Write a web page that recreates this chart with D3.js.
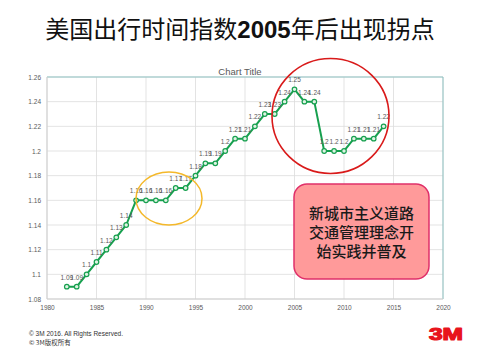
<!DOCTYPE html>
<html><head><meta charset="utf-8">
<script src="https://cdn.jsdelivr.net/npm/d3@7"></script>
<style>body{margin:0;background:#fff}svg{display:block}</style>
</head><body>
<svg id="c" width="480" height="360"></svg>
<script>
const years = [1982,1983,1984,1985,1986,1987,1988,1989,1990,1991,1992,1993,1994,1995,1996,1997,1998,1999,2000,2001,2002,2003,2004,2005,2006,2007,2008,2009,2010,2011,2012,2013,2014];
const values = [1.09,1.09,1.10,1.11,1.12,1.13,1.14,1.16,1.16,1.16,1.16,1.17,1.17,1.18,1.19,1.19,1.20,1.21,1.21,1.22,1.23,1.23,1.24,1.25,1.24,1.24,1.20,1.20,1.20,1.21,1.21,1.21,1.22];
const xTicks = [1980,1985,1990,1995,2000,2005,2010,2015,2020];
const yTicks = [1.08,1.1,1.12,1.14,1.16,1.18,1.2,1.22,1.24,1.26];
const title = "美国出行时间指数2005年后出现拐点";
const noteLines = ["新城市主义道路","交通管理理念开","始实践并普及"];

const svg = d3.select("#c");
const x = d3.scaleLinear().domain([1980,2020]).range([47,443]);
const y = d3.scaleLinear().domain([1.08,1.26]).range([299,77]);
const font = "Arial, 'Liberation Sans', sans-serif";
const cjk = "'Noto Sans CJK SC', sans-serif";

// Title
const t = svg.append("text").attr("x",240).attr("y",38).attr("text-anchor","middle")
  .attr("font-size",24).attr("fill","#111").attr("font-family",cjk);
t.append("tspan").text("美国出行时间指数");
t.append("tspan").attr("font-weight","bold").attr("font-family",font).text("2005");
t.append("tspan").text("年后出现拐点");

// grid
svg.append("g").selectAll("line").data(yTicks).join("line")
  .attr("x1",47).attr("x2",443).attr("y1",d=>y(d)).attr("y2",d=>y(d))
  .attr("stroke","#dcdcdc").attr("stroke-width",0.8);
svg.append("g").selectAll("line").data(xTicks).join("line")
  .attr("y1",77).attr("y2",299).attr("x1",d=>x(d)).attr("x2",d=>x(d))
  .attr("stroke","#dcdcdc").attr("stroke-width",0.8);
// border
svg.append("path").attr("d",`M47,77H443V299`).attr("fill","none").attr("stroke","#8fc3c3").attr("stroke-width",1);
svg.append("path").attr("d",`M47,77V299H443`).attr("fill","none").attr("stroke","#cfcfcf").attr("stroke-width",1);

// axes labels
const yAxis = d3.axisLeft(y).tickValues(yTicks).tickSize(0).tickPadding(6).tickFormat(d3.format("~g"));
const gy = svg.append("g").attr("transform","translate(47,0)").call(yAxis);
const xAxis = d3.axisBottom(x).tickValues(xTicks).tickSize(0).tickPadding(6).tickFormat(d3.format("d"));
const gx = svg.append("g").attr("transform","translate(0,299)").call(xAxis);
[gx,gy].forEach(g=>{g.select(".domain").remove();g.selectAll("text").attr("fill","#595959").attr("font-size",6.5).attr("font-family",font);});

// chart title
svg.append("text").attr("x",240).attr("y",75).attr("text-anchor","middle")
  .attr("font-size",9.5).attr("fill","#595959").attr("font-family",font).text("Chart Title");

// line
const data = years.map((yr,i)=>({yr,v:values[i]}));
svg.append("path").datum(data).attr("fill","none").attr("stroke","#17a04f").attr("stroke-width",2)
  .attr("d",d3.line().x(d=>x(d.yr)).y(d=>y(d.v)));
svg.append("g").selectAll("circle").data(data).join("circle")
  .attr("cx",d=>x(d.yr)).attr("cy",d=>y(d.v)).attr("r",2.3)
  .attr("fill","#dff3e4").attr("stroke","#17a04f").attr("stroke-width",1.2);
svg.append("g").selectAll("text").data(data).join("text")
  .attr("x",d=>x(d.yr)).attr("y",d=>y(d.v)-7).attr("text-anchor","middle")
  .attr("font-size",6.5).attr("fill","#595959").attr("font-family",font)
  .text(d=>d3.format("~g")(d.v));

// highlight ellipses
svg.append("ellipse").attr("cx",169).attr("cy",198.5).attr("rx",33).attr("ry",26.5)
  .attr("fill","none").attr("stroke","#f4b82a").attr("stroke-width",1.5);
svg.append("ellipse").attr("cx",330.5).attr("cy",116).attr("rx",58.5).attr("ry",57.5)
  .attr("fill","none").attr("stroke","#d91a1a").attr("stroke-width",1.6);

// note box
svg.append("rect").attr("x",294).attr("y",184).attr("width",135).attr("height",95).attr("rx",13)
  .attr("fill","#ff9a9a").attr("stroke","#e0306a").attr("stroke-width",1.5);
svg.append("g").selectAll("text").data(noteLines).join("text")
  .attr("x",361.5).attr("y",(d,i)=>219+i*19).attr("text-anchor","middle")
  .attr("font-size",15).attr("font-weight",500).attr("fill","#1a1a1a").attr("font-family",cjk).text(d=>d);

// footer
svg.append("text").attr("x",29).attr("y",336).attr("font-size",6.5).attr("fill","#333").attr("font-family",font).text("© 3M 2016.  All Rights Reserved.");
svg.append("text").attr("x",29).attr("y",345).attr("font-size",6.5).attr("fill","#333").attr("font-family",cjk).text("© 3M版权所有");
svg.append("text").attr("x",429).attr("y",339.5).attr("font-size",17).attr("font-weight","900")
  .attr("fill","#e8141c").attr("stroke","#e8141c").attr("stroke-width",1.2).attr("stroke-linejoin","round")
  .attr("font-family",font).attr("textLength",34).attr("lengthAdjust","spacingAndGlyphs").text("3M");
</script>
</body></html>
